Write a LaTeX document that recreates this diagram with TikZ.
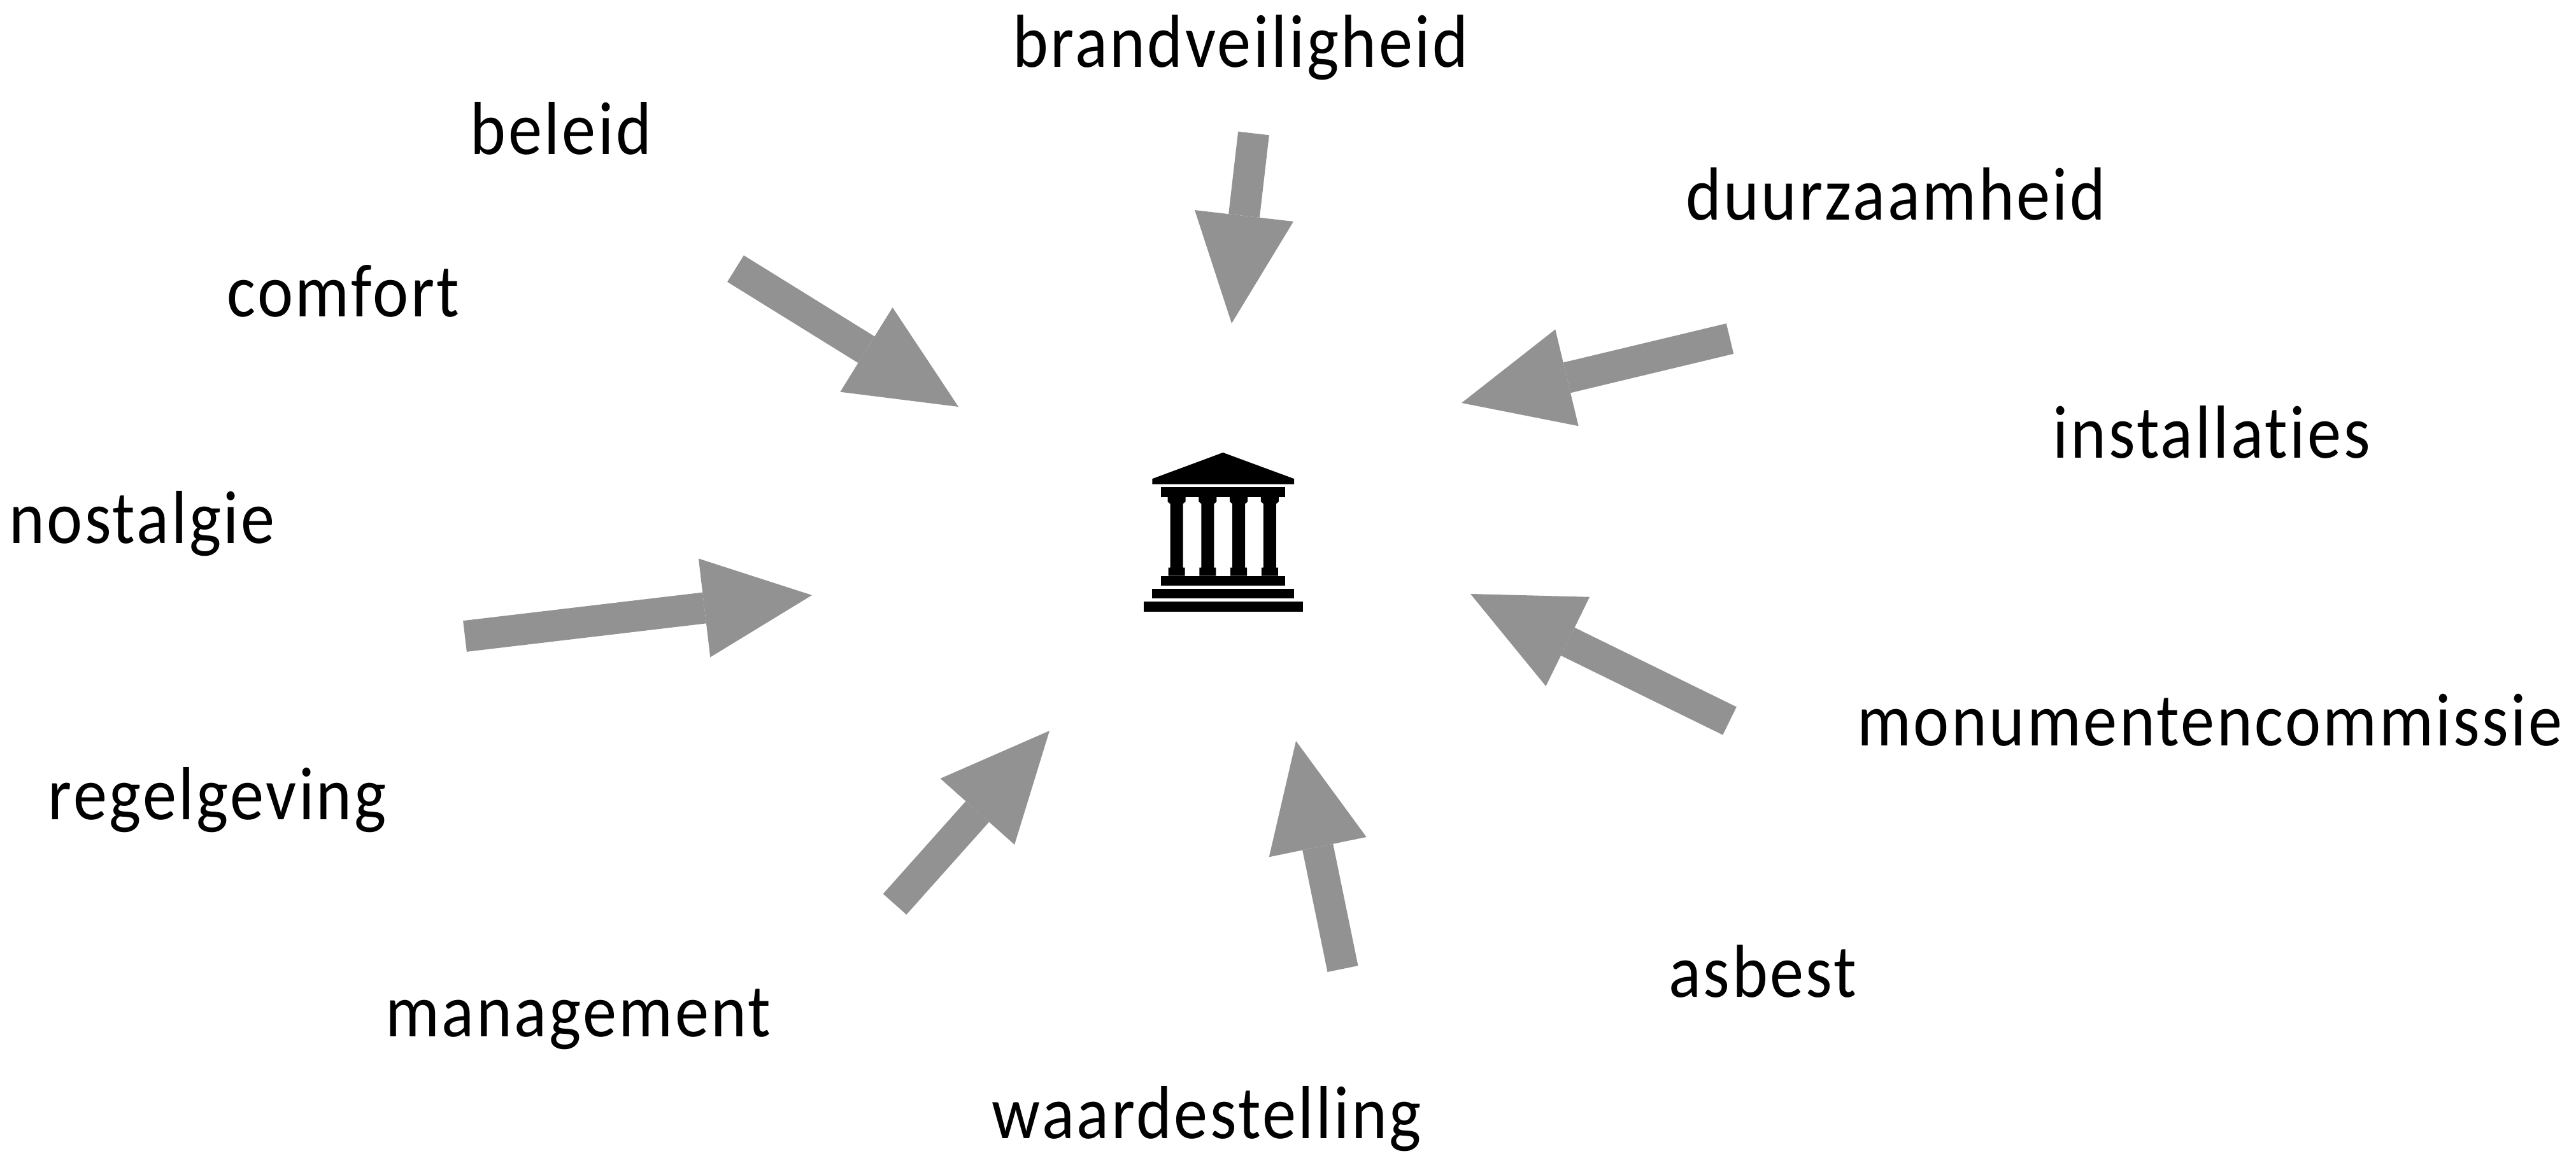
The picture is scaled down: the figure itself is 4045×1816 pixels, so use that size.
\documentclass[tikz,border=0pt]{standalone}
\usepackage{fontspec}
\setmainfont[LetterSpace=3, FakeStretch=0.9, Ligatures=NoCommon]{Carlito}
\usepackage{tikz}
\usetikzlibrary{arrows.meta, positioning}
\definecolor{arrowgray}{HTML}{929292}

\begin{document}
\begin{tikzpicture}[
  x=0.01cm, y=-0.01cm,
  label/.style={anchor=base, inner sep=0pt, font=\fontsize{33.6}{40}\selectfont},
  arr/.style={-{Triangle[length=1.7cm, width=1.56cm, line width=0pt]}, line width=0.49cm, color=arrowgray}
]
  \useasboundingbox (0,0) rectangle (4045,1816);

  \node[label] (brand) at (1948,106) {brandveiligheid};
  \node[label] (beleid) at (881,243) {beleid};
  \node[label] (comfort) at (539,498) {comfort};
  \node[label] (duurzaam) at (2977,346) {duurzaamheid};
  \node[label] (install) at (3473,720) {installaties};
  \node[label] (nostalgie) at (223,854) {nostalgie};
  \node[label] (monument) at (3470,1171) {monumentencommissie};
  \node[label] (regel) at (341,1287) {regelgeving};
  \node[label] (asbest) at (2768,1566) {asbest};
  \node[label] (manage) at (908,1628) {management};
  \node[label] (waarde) at (1895,1788) {waardestelling};

  \coordinate (brandTail) at (1968.5,209.5);
  \coordinate (brandTip) at (1934,508);
  \coordinate (beleidTail) at (1155,422);
  \coordinate (beleidTip) at (1505,639);
  \coordinate (duurzaamTail) at (2716.5,532);
  \coordinate (duurzaamTip) at (2295,633);
  \coordinate (monumentTail) at (2716,1132.5);
  \coordinate (monumentTip) at (2309,933);
  \coordinate (waardeTail) at (2108.5,1522);
  \coordinate (waardeTip) at (2035,1164);
  \coordinate (manageTail) at (1405,1420.5);
  \coordinate (manageTip) at (1648,1148);
  \coordinate (regelTail) at (730,999.5);
  \coordinate (regelTip) at (1275,935);

  \draw[arr] (brandTail) -- (brandTip);
  \draw[arr] (beleidTail) -- (beleidTip);
  \draw[arr] (duurzaamTail) -- (duurzaamTip);
  \draw[arr] (monumentTail) -- (monumentTip);
  \draw[arr] (waardeTail) -- (waardeTip);
  \draw[arr] (manageTail) -- (manageTip);
  \draw[arr] (regelTail) -- (regelTip);

  \begin{scope}[shift={(1750,680)}, x=0.003333cm, y=-0.003333cm]
    \fill (512,93) -- (848,217) -- (848,242) -- (178,242) -- (178,217) -- cycle;
    \fill (219,256) rectangle (806,302);
    \fill (219,675) rectangle (806,721);
    \fill (178,736) rectangle (848,782);
    \fill (138,796) rectangle (888,843);
    \foreach \cx in {293,440,586.5,733} {
      \fill (\cx-42,302) -- (\cx+42,302) -- (\cx+42,325) -- (\cx+30,335) -- (\cx+30,636)
        -- (\cx+39,636) -- (\cx+39,675) -- (\cx-39,675) -- (\cx-39,636) -- (\cx-30,636)
        -- (\cx-30,335) -- (\cx-42,325) -- cycle;
    }
  \end{scope}
\end{tikzpicture}
\end{document}
